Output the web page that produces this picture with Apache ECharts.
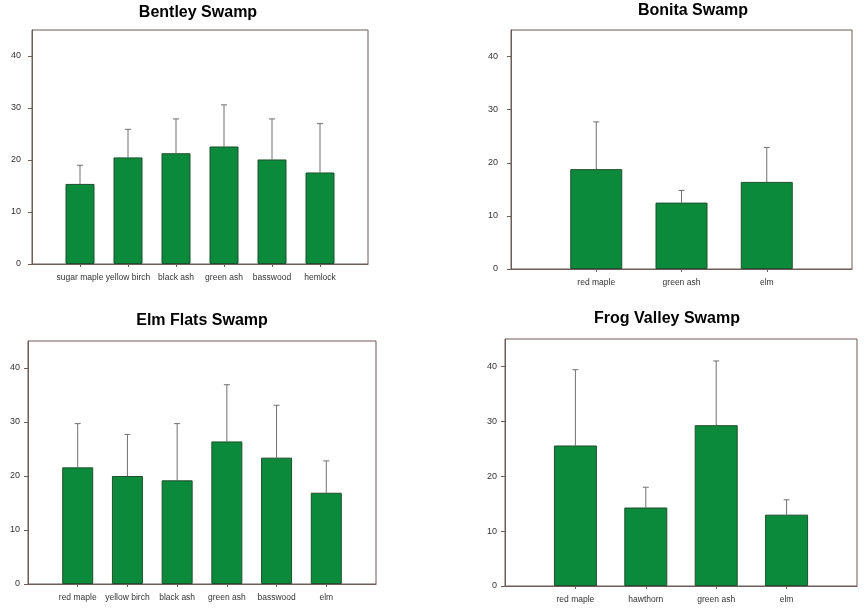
<!DOCTYPE html>
<html>
<head>
<meta charset="utf-8">
<script src="https://cdn.jsdelivr.net/npm/echarts@6/dist/echarts.min.js"></script>
<style>
html,body{margin:0;padding:0;background:#fff;}
#main{width:865px;height:608px;}
</style>
</head>
<body>
<div id="main"></div>
<script>
// ---- data ----
var titles = ['Bentley Swamp', 'Bonita Swamp', 'Elm Flats Swamp', 'Frog Valley Swamp'];

var bentleyCats = ['sugar maple', 'yellow birch', 'black ash', 'green ash', 'basswood', 'hemlock'];
var bentleyMeans = [15.4, 20.5, 21.3, 22.6, 20.1, 17.6];
var bentleyTops = [19.0, 25.9, 27.9, 30.6, 27.9, 27.0];

var bonitaCats = ['red maple', 'green ash', 'elm'];
var bonitaMeans = [18.8, 12.5, 16.4];
var bonitaTops = [27.7, 14.8, 22.9];

var elmCats = ['red maple', 'yellow birch', 'black ash', 'green ash', 'basswood', 'elm'];
var elmMeans = [21.6, 20.0, 19.2, 26.4, 23.4, 16.9];
var elmTops = [29.7, 27.7, 29.7, 36.9, 33.1, 22.8];

var frogCats = ['red maple', 'hawthorn', 'green ash', 'elm'];
var frogMeans = [25.6, 14.3, 29.3, 13.0];
var frogTops = [39.4, 18.0, 41.0, 15.7];

var yTicks = [0, 10, 20, 30, 40];

// ---- layout ----
var panels = [
  {cats: bentleyCats, means: bentleyMeans, tops: bentleyTops, grid: {left: 32, top: 30, width: 336, height: 234}, barW: 29, title: [198, 13], yMargin: 11},
  {cats: bonitaCats, means: bonitaMeans, tops: bonitaTops, grid: {left: 511, top: 30, width: 341, height: 239}, barW: 52, title: [693, 11], yMargin: 13},
  {cats: elmCats, means: elmMeans, tops: elmTops, grid: {left: 28, top: 341, width: 348, height: 243}, barW: 31, title: [202, 321], yMargin: 8},
  {cats: frogCats, means: frogMeans, tops: frogTops, grid: {left: 505, top: 339, width: 352, height: 247}, barW: 43, title: [667, 319], yMargin: 8}
];

var axisColor = '#6b5d58';
var barColor = '#0b8a3c';
var errColor = '#707070';
var font = 'Liberation Sans, Arial, sans-serif';

var grids = [], xAxes = [], yAxes = [], series = [], graphics = [];

panels.forEach(function (p, i) {
  var cats = [''].concat(p.cats).concat(['']);
  grids.push(Object.assign({show: true, borderColor: axisColor, borderWidth: 1, backgroundColor: '#fff'}, p.grid));
  xAxes.push({
    type: 'category', gridIndex: i, data: cats, boundaryGap: false,
    axisLine: {show: true, lineStyle: {color: axisColor, width: 1}},
    axisTick: {show: true, length: 3, lineStyle: {color: axisColor}, interval: function (idx, val) { return val !== ''; }},
    axisLabel: {show: true, interval: 0, fontSize: 8.5, color: '#333', fontFamily: font, margin: 9},
    splitLine: {show: false}
  });
  yAxes.push({
    type: 'value', gridIndex: i, min: 0, max: 45, interval: 10,
    axisLine: {show: true, lineStyle: {color: axisColor, width: 1}},
    axisTick: {show: true, length: 4, lineStyle: {color: axisColor}, customValues: yTicks},
    axisLabel: {fontSize: 9, color: '#333', fontFamily: font, margin: p.yMargin, customValues: yTicks},
    splitLine: {show: false}
  });
  var barData = [null].concat(p.means).concat([null]);
  series.push({
    type: 'bar', xAxisIndex: i, yAxisIndex: i, data: barData, barWidth: p.barW,
    itemStyle: {color: barColor, borderColor: '#1f4f2c', borderWidth: 1},
    silent: true, z: 2
  });
  var errData = p.means.map(function (m, k) { return [k + 1, m, p.tops[k]]; });
  series.push({
    type: 'custom', xAxisIndex: i, yAxisIndex: i, data: errData, z: 1, silent: true,
    renderItem: function (params, api) {
      var x = api.value(0);
      var lo = api.coord([x, api.value(1)]);
      var hi = api.coord([x, api.value(2)]);
      return {
        type: 'group',
        children: [
          {type: 'line', shape: {x1: lo[0], y1: lo[1], x2: hi[0], y2: hi[1]}, style: {stroke: errColor, lineWidth: 1}},
          {type: 'line', shape: {x1: hi[0] - 3, y1: hi[1], x2: hi[0] + 3, y2: hi[1]}, style: {stroke: errColor, lineWidth: 1}}
        ]
      };
    }
  });
  graphics.push({
    type: 'text', x: p.title[0], y: p.title[1],
    style: {text: titles[i], fontSize: 16, fontWeight: 'bold', fontFamily: font,
      fill: '#000', textAlign: 'center', textVerticalAlign: 'middle'}
  });
});

var chart = echarts.init(document.getElementById('main'), null, {renderer: 'canvas'});
chart.setOption({
  animation: false,
  backgroundColor: '#fff',
  grid: grids,
  xAxis: xAxes,
  yAxis: yAxes,
  series: series,
  graphic: graphics
});
</script>
</body>
</html>
